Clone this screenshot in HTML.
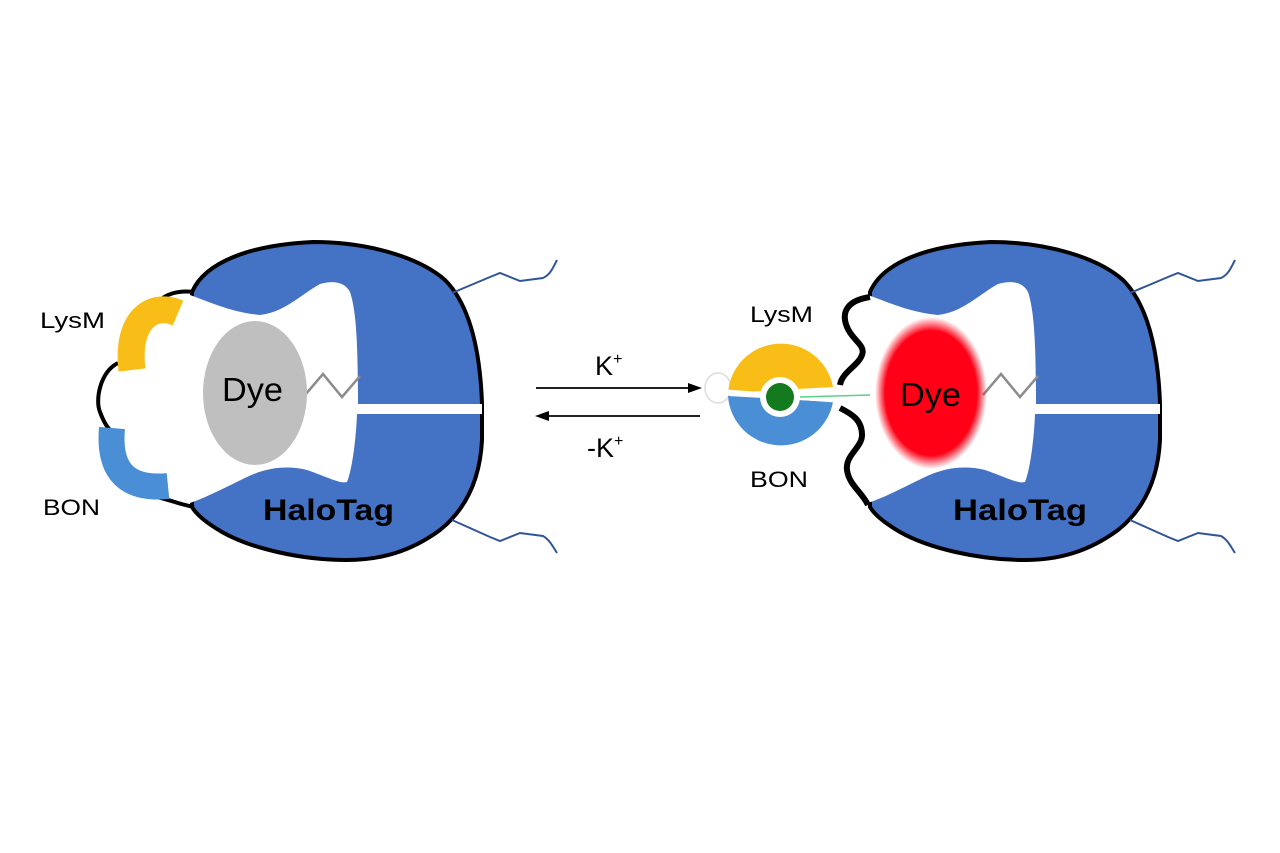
<!DOCTYPE html>
<html><head><meta charset="utf-8"><style>html,body{margin:0;padding:0;background:#fff}svg{display:block}</style></head>
<body>
<svg width="1280" height="853" viewBox="0 0 1280 853" xmlns="http://www.w3.org/2000/svg" font-family="Liberation Sans, sans-serif">
<defs>
<g id="body">
  <path d="M192 292 C205 262 250 245 313 242 C370 242 420 258 445 280 C470 305 480 350 482 403 L482 440 C480 480 465 510 440 530 C410 552 380 560 347 560 C300 560 250 548 222 532 C205 522 196 514 192 507 Z" fill="#4472c4" stroke="#000" stroke-width="4"/>
  <path d="M190 295 C210 302 230 312 260 315 C285 312 300 295 320 284 C333 280 345 282 350 292 C356 310 358 340 358 404 L482 404 L482 414 L357 414 C356 440 352 470 347 482 C340 484 330 478 307 470 C290 466 270 466 247 477 C230 485 210 496 190 503 Z" fill="#fff"/>
  <path d="M452 293 L490 277 L500 273 L520 281 L543 278 C550 275 553 268 557 260" fill="none" stroke="#2f5597" stroke-width="2"/>
  <path d="M452 520 L490 537 L500 541 L520 533 L543 536 C550 540 553 547 557 553" fill="none" stroke="#2f5597" stroke-width="2"/>
  <polyline points="305,395 323,374 342,397 360,376" fill="none" stroke="#8c8c8c" stroke-width="2.5"/>
</g>
<radialGradient id="red" cx="50%" cy="50%" r="50%">
  <stop offset="82%" stop-color="#ff0016"/>
  <stop offset="100%" stop-color="#ff0016" stop-opacity="0"/>
</radialGradient>
</defs>

<!-- left protein -->
<use href="#body"/>
<ellipse cx="255" cy="393" rx="52" ry="72" fill="#bfbfbf"/>
<text x="222" y="401" font-size="33" fill="#000" textLength="61" lengthAdjust="spacingAndGlyphs">Dye</text>
<text x="263" y="520" font-size="30" font-weight="bold" fill="#000" textLength="131" lengthAdjust="spacingAndGlyphs">HaloTag</text>
<path d="M157 303 C165 294 178 290 194 292" fill="none" stroke="#000" stroke-width="4"/>
<path d="M118 363 C100 372 95 400 100 412 C103 420 106 426 110 430" fill="none" stroke="#000" stroke-width="4"/>
<path d="M157 497 C170 500 182 505 194 507" fill="none" stroke="#000" stroke-width="4"/>
<path d="M178 313 C152 302 126 320 132 370" fill="none" stroke="#f9bd17" stroke-width="27"/>
<path d="M112 428 C108 472 128 490 168 486" fill="none" stroke="#4a8fd6" stroke-width="26"/>
<text x="40" y="328" font-size="22" textLength="65" lengthAdjust="spacingAndGlyphs">LysM</text>
<text x="43" y="515" font-size="22" textLength="57" lengthAdjust="spacingAndGlyphs">BON</text>

<!-- arrows -->
<line x1="536" y1="388" x2="690" y2="388" stroke="#000" stroke-width="1.8"/>
<polygon points="702,388 688,383 688,393" fill="#000"/>
<line x1="548" y1="416" x2="700" y2="416" stroke="#000" stroke-width="1.8"/>
<polygon points="535,416 549,411 549,421" fill="#000"/>
<text x="595" y="375" font-size="27">K<tspan font-size="16" dy="-11">+</tspan></text>
<text x="587" y="457" font-size="27">-K<tspan font-size="16" dy="-11">+</tspan></text>

<!-- right protein -->
<use href="#body" transform="translate(678,0)"/>
<ellipse cx="931" cy="393" rx="56" ry="76" fill="url(#red)"/>
<text x="900" y="406" font-size="33" textLength="61" lengthAdjust="spacingAndGlyphs">Dye</text>
<text x="953" y="520" font-size="30" font-weight="bold" textLength="134" lengthAdjust="spacingAndGlyphs">HaloTag</text>
<path d="M870 297 C850 300 840 310 847 327 C852 340 866 345 862 355 C858 366 842 372 840 385" fill="none" stroke="#000" stroke-width="6"/>
<path d="M840 408 C852 414 862 420 862 435 C862 448 845 455 847 470 C849 485 862 492 868 505" fill="none" stroke="#000" stroke-width="6"/>
<ellipse cx="718" cy="388" rx="13" ry="15" fill="#fff" stroke="#ddd" stroke-width="1.5"/>
<path d="M728 393 A53 53 0 0 1 833 387 Z" fill="#f9bd17"/>
<path d="M728 396 L833 402 A53 53 0 0 1 728 396 Z" fill="#4a8fd6"/>
<path d="M726 392 L835 400" stroke="#fff" stroke-width="5"/>
<circle cx="780" cy="397" r="20" fill="#fff"/>
<circle cx="780" cy="397" r="14" fill="#137a1e"/>
<line x1="800" y1="397" x2="870" y2="395" stroke="#5cd08a" stroke-width="1.5"/>
<text x="750" y="322" font-size="22" textLength="63" lengthAdjust="spacingAndGlyphs">LysM</text>
<text x="750" y="487" font-size="22" textLength="58" lengthAdjust="spacingAndGlyphs">BON</text>
</svg>
</body></html>
